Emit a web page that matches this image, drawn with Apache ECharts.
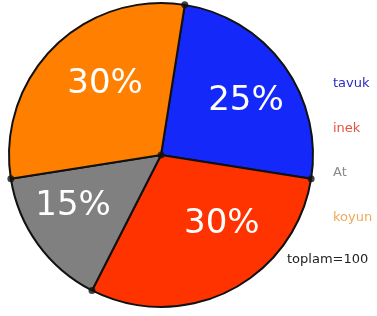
<!DOCTYPE html>
<html>
<head>
<meta charset="utf-8">
<script src="https://cdn.jsdelivr.net/npm/echarts@6/dist/echarts.min.js"></script>
<style>
html,body{margin:0;padding:0;background:#fff;}
#chart{width:377px;height:316px;}
</style>
</head>
<body>
<div id="chart"></div>
<script>
var names = ['tavuk', 'inek', 'At', 'koyun'];
var values = [25, 30, 15, 30];
var sliceColors = ['#1428fa', '#ff3300', '#808080', '#ff8000'];
var legendColors = ['#2b2bc4', '#e85040', '#8a8a8a', '#f0a85a'];
var totalText = 'toplam=100';

// nudge of each percentage label from the middle of its slice
var labelShift = [[21, -7], [25, -1], [-24, 5], [0, -15]];

var chart = echarts.init(document.getElementById('chart'));

var pieData = [];
for (var i = 0; i < names.length; i++) {
    pieData.push({
        name: names[i],
        value: values[i],
        itemStyle: { color: sliceColors[i] }
    });
}

// dots where the slices meet the rim, plus the centre
var dots = [[0, 0]];
var acc = 0;
for (var j = 0; j < values.length; j++) {
    dots.push([1, acc]);
    acc += values[j];
}

var legendData = names.map(function (n, k) {
    return { name: n, textStyle: { color: legendColors[k] } };
});

var option = {
    animation: false,
    title: {
        text: totalText,
        left: 282,
        top: 248,
        textStyle: { fontSize: 13, fontWeight: 'normal', color: '#222', fontFamily: 'DejaVu Sans' }
    },
    legend: {
        orient: 'vertical',
        left: 323,
        top: 72,
        icon: 'none',
        itemWidth: 0,
        itemGap: 31,
        selectedMode: false,
        data: legendData,
        textStyle: { fontSize: 13, fontFamily: 'DejaVu Sans' }
    },
    polar: { center: [161, 155], radius: 152 },
    angleAxis: { type: 'value', min: 0, max: 100, startAngle: 81, clockwise: true, show: false },
    radiusAxis: { type: 'value', min: 0, max: 1, show: false },
    series: [{
        name: 'hayvan',
        type: 'pie',
        center: [161, 155],
        radius: 152,
        startAngle: 81,
        clockwise: true,
        data: pieData,
        itemStyle: { borderColor: '#111', borderWidth: 2 },
        label: {
            show: true,
            position: 'inner',
            formatter: '{c}%',
            color: '#fff',
            fontSize: 34,
            fontFamily: 'DejaVu Sans'
        },
        labelLine: { show: false },
        labelLayout: function (p) {
            return { dx: labelShift[p.dataIndex][0], dy: labelShift[p.dataIndex][1] };
        },
        emphasis: { disabled: true }
    }, {
        type: 'scatter',
        coordinateSystem: 'polar',
        data: dots,
        symbolSize: 7,
        itemStyle: { color: '#111' },
        z: 5,
        silent: true
    }]
};
chart.setOption(option);
</script>
</body>
</html>
